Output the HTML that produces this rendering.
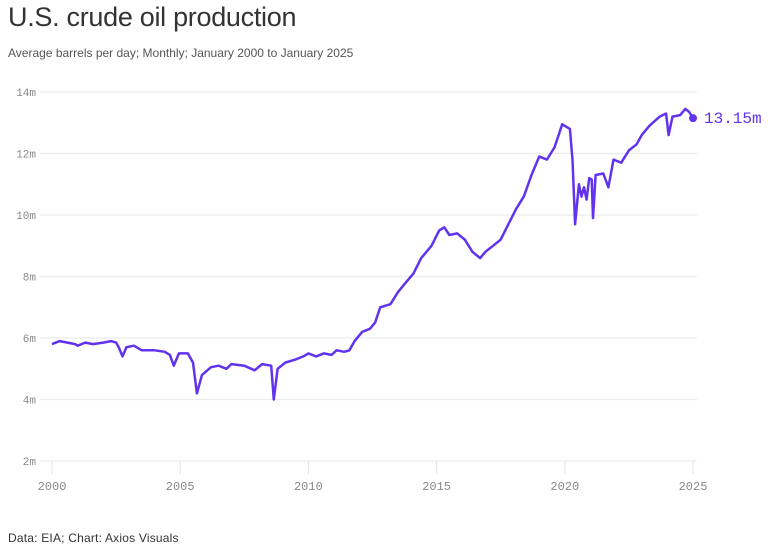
<!DOCTYPE html>
<html><head><meta charset="utf-8"><style>
body{margin:0;background:#fff;width:773px;height:551px;overflow:hidden;font-family:"Liberation Sans",sans-serif;}
.t{position:absolute;left:8px;top:2px;font-size:27px;color:#333;letter-spacing:-0.3px}
.s{position:absolute;left:8px;top:46px;font-size:12px;color:#555}
.f{position:absolute;left:8px;top:531px;font-size:12px;color:#333;letter-spacing:0.2px}
svg{position:absolute;left:0;top:0}
</style></head><body>
<div class="t">U.S. crude oil production</div>
<div class="s">Average barrels per day; Monthly; January 2000 to January 2025</div>
<div class="f">Data: EIA; Chart: Axios Visuals</div>
<svg id="c" width="773" height="551" font-family="Liberation Mono, monospace"></svg>
<script>
var s=document.getElementById('c'),h='';
function X(y){return 52+(y-2000)*25.64}
function Y(v){return 461-(v-2)*30.75}
for(var v=2;v<=14;v+=2){h+='<line x1="40" x2="697" y1="'+Y(v)+'" y2="'+Y(v)+'" stroke="#ececec" stroke-width="1.2"/>';
h+='<text x="36" y="'+(Y(v)+4)+'" font-size="11" fill="#888" text-anchor="end">'+v+'m</text>';}
for(var y=2000;y<=2025;y+=5){h+='<line x1="'+X(y)+'" x2="'+X(y)+'" y1="461" y2="474" stroke="#e4e4e4"/>';
h+='<text x="'+X(y)+'" y="490" font-size="12" fill="#888" text-anchor="middle">'+y+'</text>';}
var d=[[2000,5.8],[2000.3,5.9],[2000.6,5.85],[2000.9,5.8],[2001,5.75],[2001.3,5.85],[2001.6,5.8],[2002,5.85],[2002.3,5.9],[2002.5,5.85],[2002.6,5.7],[2002.75,5.4],[2002.9,5.7],[2003.2,5.75],[2003.5,5.6],[2004,5.6],[2004.4,5.55],[2004.6,5.45],[2004.75,5.1],[2004.95,5.5],[2005.3,5.5],[2005.5,5.2],[2005.65,4.2],[2005.85,4.8],[2006.2,5.05],[2006.5,5.1],[2006.8,5.0],[2007,5.15],[2007.5,5.1],[2007.9,4.95],[2008.2,5.15],[2008.55,5.1],[2008.65,4.0],[2008.8,5.0],[2009.1,5.2],[2009.5,5.3],[2009.8,5.4],[2010,5.5],[2010.3,5.4],[2010.6,5.5],[2010.9,5.45],[2011.1,5.6],[2011.4,5.55],[2011.6,5.6],[2011.8,5.9],[2012.1,6.2],[2012.4,6.3],[2012.6,6.5],[2012.8,7.0],[2013.2,7.1],[2013.5,7.5],[2013.8,7.8],[2014.1,8.1],[2014.4,8.6],[2014.8,9.0],[2015.1,9.5],[2015.3,9.6],[2015.5,9.35],[2015.8,9.4],[2016.1,9.2],[2016.4,8.8],[2016.7,8.6],[2016.9,8.8],[2017.2,9.0],[2017.5,9.2],[2017.8,9.7],[2018.1,10.2],[2018.4,10.6],[2018.7,11.3],[2019,11.9],[2019.3,11.8],[2019.6,12.2],[2019.9,12.95],[2020.2,12.8],[2020.3,11.8],[2020.4,9.7],[2020.55,11.0],[2020.65,10.6],[2020.75,10.9],[2020.85,10.5],[2020.95,11.2],[2021.05,11.15],[2021.1,9.9],[2021.2,11.3],[2021.5,11.35],[2021.7,10.9],[2021.9,11.8],[2022.2,11.7],[2022.5,12.1],[2022.8,12.3],[2023,12.6],[2023.3,12.9],[2023.7,13.2],[2023.95,13.3],[2024.05,12.6],[2024.2,13.2],[2024.5,13.25],[2024.7,13.45],[2024.85,13.35],[2025,13.15]];
var p=d.map(function(q){return X(q[0]).toFixed(1)+','+Y(q[1]).toFixed(1)}).join(' ');
h+='<polyline points="'+p+'" fill="none" stroke="#6133ee" stroke-width="2.5" stroke-linejoin="round"/>';
h+='<circle cx="'+X(2025)+'" cy="'+Y(13.15)+'" r="4" fill="#6133ee"/>';
h+='<text x="704" y="'+(Y(13.15)+5)+'" font-size="16" fill="#6133ee">13.15m</text>';
s.innerHTML=h;
</script>
</body></html>
